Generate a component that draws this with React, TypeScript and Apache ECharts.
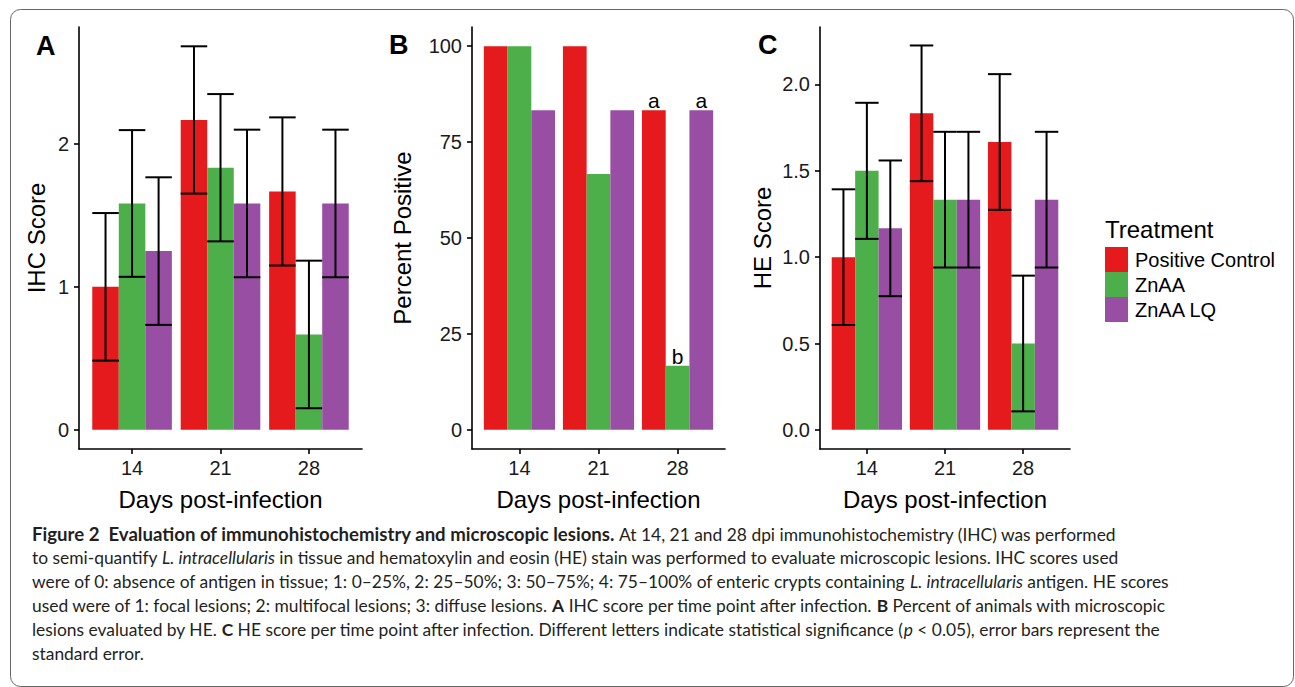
import React, { useEffect, useRef } from 'react';
import * as echarts from 'echarts';

const days = ['14', '21', '28'];
const treatments = ['Positive Control', 'ZnAA', 'ZnAA LQ'];
const colors = ['#E41A1C', '#4DAF4A', '#984EA3'];

// Panel A: IHC score (mean and standard error)
const ihcPositiveControl = [1.0, 2.167, 1.667];
const ihcZnAA = [1.583, 1.833, 0.667];
const ihcZnAALQ = [1.25, 1.583, 1.583];
const ihcSePositiveControl = [0.516, 0.515, 0.518];
const ihcSeZnAA = [0.513, 0.515, 0.516];
const ihcSeZnAALQ = [0.516, 0.516, 0.516];
const ihcTicks = [0, 1, 2];

// Panel B: percent positive
const pctPositiveControl = [100, 100, 83.3];
const pctZnAA = [100, 66.7, 16.7];
const pctZnAALQ = [83.3, 83.3, 83.3];
const pctLettersPositiveControl = ['', '', 'a'];
const pctLettersZnAA = ['', '', 'b'];
const pctLettersZnAALQ = ['', '', 'a'];
const pctTicks = [0, 25, 50, 75, 100];

// Panel C: HE score (mean and standard error)
const hePositiveControl = [1.0, 1.833, 1.667];
const heZnAA = [1.5, 1.333, 0.5];
const heZnAALQ = [1.167, 1.333, 1.333];
const heSePositiveControl = [0.393, 0.393, 0.393];
const heSeZnAA = [0.394, 0.393, 0.393];
const heSeZnAALQ = [0.393, 0.393, 0.393];
const heTicks = [0, 0.5, 1, 1.5, 2];

const captionLines = [
  '{h|Figure 2  Evaluation of immunohistochemistry and microscopic lesions.} At 14, 21 and 28 dpi immunohistochemistry (IHC) was performed',
  'to semi-quantify {i|L. intracellularis} in tissue and hematoxylin and eosin (HE) stain was performed to evaluate microscopic lesions. IHC scores used',
  'were of 0: absence of antigen in tissue; 1: 0–25%, 2: 25–50%; 3: 50–75%; 4: 75–100% of enteric crypts containing {i|L. intracellularis} antigen. HE scores',
  'used were of 1: focal lesions; 2: multifocal lesions; 3: diffuse lesions. {b|A} IHC score per time point after infection. {b|B} Percent of animals with microscopic',
  'lesions evaluated by HE. {b|C} HE score per time point after infection. Different letters indicate statistical significance ({i|p} < 0.05), error bars represent the',
  'standard error.',
];

const FONT = '"Liberation Sans", Arial, sans-serif';
const CAP_FONT = 'Lato, "Open Sans", sans-serif';
const CAP_SIZE = 17.4;
const HEAD_SIZE = 18.6;
const DODGE = 0.3;

export default function App() {
  const ref = useRef<HTMLDivElement>(null);
  useEffect(() => {
    if (!ref.current) return;
    const chart = echarts.init(ref.current, null, { renderer: 'svg' });

    const grids = [
      { left: 79, top: 27, width: 283, height: 422 },
      { left: 472, top: 27, width: 253, height: 422 },
      { left: 820, top: 27, width: 250, height: 422 },
    ];
    const yExt = [
      [-0.134, 2.817],
      [-5, 105],
      [-0.111, 2.333],
    ];
    const yTicks = [ihcTicks, pctTicks, heTicks];
    const yNames = ['IHC Score', 'Percent Positive', 'HE Score'];
    const yGaps = [31, 58, 46];
    const yFmt = [
      (v: number) => String(v),
      (v: number) => String(v),
      (v: number) => v.toFixed(1),
    ];

    const axisLine = { show: true, onZero: false, lineStyle: { color: '#000', width: 1.6 } };
    const tickStyle = { color: '#000', width: 1.6 };

    const xAxis = grids.map((_, g) => ({
      type: 'value',
      gridIndex: g,
      min: 0.4,
      max: 3.6,
      axisLine,
      axisTick: { show: true, length: 5, lineStyle: tickStyle, customValues: [1, 2, 3] },
      axisLabel: {
        customValues: [1, 2, 3],
        formatter: (v: number) => days[Math.round(v) - 1],
        margin: 9,
        fontSize: 20,
        color: '#1a1a1a',
        fontFamily: FONT,
      },
      splitLine: { show: false },
      name: 'Days post-infection',
      nameLocation: 'middle',
      nameGap: 38,
      nameTextStyle: { fontSize: 24, color: '#000', fontFamily: FONT },
    }));

    const yAxis = grids.map((_, g) => ({
      type: 'value',
      gridIndex: g,
      min: yExt[g][0],
      max: yExt[g][1],
      axisLine,
      axisTick: { show: true, length: 5, lineStyle: tickStyle, customValues: yTicks[g] },
      axisLabel: {
        customValues: yTicks[g],
        formatter: yFmt[g],
        margin: 10,
        fontSize: 20,
        color: '#1a1a1a',
        fontFamily: FONT,
      },
      splitLine: { show: false },
      name: yNames[g],
      nameLocation: 'middle',
      nameGap: yGaps[g],
      nameTextStyle: { fontSize: 24, color: '#000', fontFamily: FONT },
    }));

    const means = [
      [ihcPositiveControl, ihcZnAA, ihcZnAALQ],
      [pctPositiveControl, pctZnAA, pctZnAALQ],
      [hePositiveControl, heZnAA, heZnAALQ],
    ];
    const ses = [
      [ihcSePositiveControl, ihcSeZnAA, ihcSeZnAALQ],
      null,
      [heSePositiveControl, heSeZnAA, heSeZnAALQ],
    ];
    const letters = [pctLettersPositiveControl, pctLettersZnAA, pctLettersZnAALQ];

    const series: any[] = [];
    for (let g = 0; g < 3; g++) {
      for (let t = 0; t < 3; t++) {
        const color = colors[t];
        series.push({
          type: 'custom',
          name: treatments[t],
          xAxisIndex: g,
          yAxisIndex: g,
          itemStyle: { color },
          z: 2,
          data: means[g][t].map((v, i) => [i, v]),
          renderItem: (_p: any, api: any) => {
            const i = api.value(0);
            const v = api.value(1);
            const cx = i + 1 + (t - 1) * DODGE;
            const p0 = api.coord([cx - DODGE / 2, v]);
            const p1 = api.coord([cx + DODGE / 2, 0]);
            return {
              type: 'rect',
              shape: { x: p0[0], y: p0[1], width: p1[0] - p0[0], height: p1[1] - p0[1] },
              style: { fill: color },
            };
          },
        });
      }
    }
    for (let g = 0; g < 3; g++) {
      const se = ses[g];
      if (!se) continue;
      for (let t = 0; t < 3; t++) {
        series.push({
          type: 'custom',
          name: 'err' + g + t,
          xAxisIndex: g,
          yAxisIndex: g,
          z: 5,
          data: means[g][t].map((v, i) => [i, v, se[t][i]]),
          renderItem: (_p: any, api: any) => {
            const i = api.value(0);
            const m = api.value(1);
            const s = api.value(2);
            const cx = i + 1 + (t - 1) * DODGE;
            const top = api.coord([cx, m + s]);
            const bot = api.coord([cx, m - s]);
            const l = api.coord([cx - DODGE / 2, 0])[0];
            const r = api.coord([cx + DODGE / 2, 0])[0];
            const st = { stroke: '#000', lineWidth: 2 };
            return {
              type: 'group',
              children: [
                { type: 'line', shape: { x1: top[0], y1: top[1], x2: bot[0], y2: bot[1] }, style: st },
                { type: 'line', shape: { x1: l, y1: top[1], x2: r, y2: top[1] }, style: st },
                { type: 'line', shape: { x1: l, y1: bot[1], x2: r, y2: bot[1] }, style: st },
              ],
            };
          },
        });
      }
    }
    for (let t = 0; t < 3; t++) {
      series.push({
        type: 'custom',
        name: 'letters' + t,
        xAxisIndex: 1,
        yAxisIndex: 1,
        z: 6,
        data: pctPositiveControl.map((_, i) => [i, means[1][t][i]]),
        renderItem: (p: any, api: any) => {
          const i = api.value(0);
          const v = api.value(1);
          const cx = i + 1 + (t - 1) * DODGE;
          const pt = api.coord([cx, v]);
          return {
            type: 'text',
            x: pt[0],
            y: pt[1] + 1,
            style: {
              text: letters[t][p.dataIndex],
              fontSize: 21,
              fontFamily: FONT,
              fill: '#000',
              align: 'center',
              verticalAlign: 'bottom',
            },
          };
        },
      });
    }

    const graphic: any[] = [
      {
        type: 'rect',
        shape: { x: 10.5, y: 9.5, width: 1283, height: 677, r: 10 },
        style: { fill: 'none', stroke: '#666', lineWidth: 1 },
        silent: true,
      },
      { type: 'text', x: 36, y: 46, style: { text: 'A', fontSize: 27, fontWeight: 'bold', fontFamily: FONT, fill: '#000', verticalAlign: 'middle' } },
      { type: 'text', x: 389, y: 45, style: { text: 'B', fontSize: 27, fontWeight: 'bold', fontFamily: FONT, fill: '#000', verticalAlign: 'middle' } },
      { type: 'text', x: 758, y: 45, style: { text: 'C', fontSize: 27, fontWeight: 'bold', fontFamily: FONT, fill: '#000', verticalAlign: 'middle' } },
      { type: 'text', x: 1105, y: 229, style: { text: 'Treatment', fontSize: 24, fontFamily: FONT, fill: '#000', verticalAlign: 'middle' } },
    ];
    captionLines.forEach((line, k) => {
      graphic.push({
        type: 'text',
        x: 32,
        y: 534 + k * 23.8,
        style: {
          text: line,
          fontSize: CAP_SIZE,
          fontFamily: CAP_FONT,
          fill: '#231f20',
          verticalAlign: 'middle',
          rich: {
            h: { fontWeight: 'bold', fontSize: HEAD_SIZE, fontFamily: CAP_FONT, fill: '#231f20' },
            b: { fontWeight: 'bold', fontSize: CAP_SIZE, fontFamily: CAP_FONT, fill: '#231f20' },
            i: { fontStyle: 'italic', fontSize: CAP_SIZE, fontFamily: CAP_FONT, fill: '#231f20' },
          },
        },
      });
    });

    chart.setOption({
      animation: false,
      backgroundColor: '#fff',
      grid: grids.map((g) => ({ ...g, containLabel: false })),
      xAxis,
      yAxis,
      legend: {
        data: treatments,
        orient: 'vertical',
        left: 1105,
        top: 247,
        padding: 0,
        itemGap: 0,
        itemWidth: 23,
        itemHeight: 25,
        icon: 'rect',
        selectedMode: false,
        textStyle: { fontSize: 20, fontFamily: FONT, color: '#000', padding: [0, 0, 0, 2] },
      },
      graphic,
      series,
    });
    return () => chart.dispose();
  }, []);
  return (
    <div
      ref={ref}
      style={{ position: 'fixed', left: 0, top: 0, width: 1295, height: 687, background: '#fff' }}
    />
  );
}
